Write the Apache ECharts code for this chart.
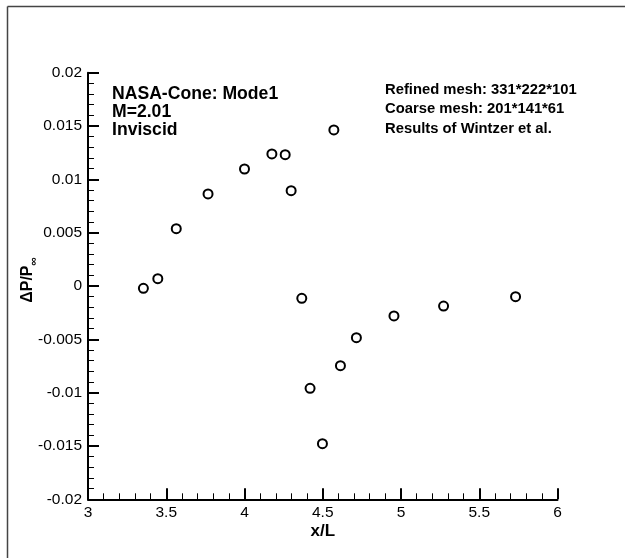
<!DOCTYPE html>
<html>
<head>
<meta charset="utf-8">
<script src="https://cdn.jsdelivr.net/npm/echarts@6/dist/echarts.min.js"></script>
<style>
html,body{margin:0;padding:0;background:#fff;}
#c{width:625px;height:558px;}
</style>
</head>
<body>
<div id="c"></div>
<script>
var xValues = [3.354, 3.446, 3.564, 3.767, 4.000, 4.175, 4.260, 4.298, 4.571, 4.366, 4.419, 4.498, 4.613, 4.715, 4.955, 5.272, 5.732];
var yValues = [-0.00022, 0.00069, 0.00537, 0.00863, 0.01097, 0.01238, 0.01231, 0.00894, 0.01463, -0.00115, -0.00959, -0.01479, -0.00747, -0.00485, -0.00281, -0.00188, -0.00100];
var xTicks = [3, 3.5, 4, 4.5, 5, 5.5, 6];
var yTicks = [-0.02, -0.015, -0.01, -0.005, 0, 0.005, 0.01, 0.015, 0.02];
var leftNote = ['NASA-Cone: Mode1', 'M=2.01', 'Inviscid'];
var rightNote = ['Refined mesh: 331*222*101', 'Coarse mesh: 201*141*61', 'Results of Wintzer et al.'];

var FONT = '"Liberation Sans", Arial, Helvetica, sans-serif';
var points = xValues.map(function (x, i) { return [x, yValues[i]]; });

var chart = echarts.init(document.getElementById('c'), null, {renderer: 'canvas'});
chart.setOption({
  animation: false,
  backgroundColor: '#fff',
  grid: {left: 88, right: 67.5, top: 72.7, bottom: 58.7, containLabel: false},
  xAxis: {
    type: 'value', min: 3, max: 6, interval: 0.5,
    name: 'x/L', nameLocation: 'middle', nameGap: 24, nameMoveOverlap: false,
    nameTextStyle: {fontFamily: FONT, fontWeight: 'bold', fontSize: 17, color: '#000'},
    axisLine: {show: true, onZero: false, lineStyle: {color: '#000', width: 2}},
    axisTick: {show: true, inside: true, length: 11, lineStyle: {color: '#000', width: 2}},
    minorTick: {show: true, splitNumber: 5, length: 6, lineStyle: {color: '#000', width: 1}},
    splitLine: {show: false},
    axisLabel: {
      fontFamily: FONT, fontSize: 15.5, color: '#000', margin: 5,
      formatter: function (v) { return xTicks.indexOf(v) >= 0 ? String(v) : ''; }
    }
  },
  yAxis: {
    type: 'value', min: -0.02, max: 0.02, interval: 0.005,
    name: '{a|ΔP/P}{b|∞}', nameLocation: 'middle', nameGap: 48, nameRotate: 90, nameMoveOverlap: false,
    nameTextStyle: {
      fontFamily: FONT, color: '#000', padding: [0, 0, 0, 12],
      rich: {
        a: {fontFamily: FONT, fontWeight: 'bold', fontSize: 16, lineHeight: 24, color: '#000'},
        b: {fontFamily: FONT, fontWeight: 'bold', fontSize: 11.5, lineHeight: 11, verticalAlign: 'bottom', color: '#000'}
      }
    },
    axisLine: {show: true, onZero: false, lineStyle: {color: '#000', width: 2}},
    axisTick: {show: true, inside: true, length: 11, lineStyle: {color: '#000', width: 2}},
    minorTick: {show: true, splitNumber: 5, length: 6, lineStyle: {color: '#000', width: 1}},
    splitLine: {show: false},
    axisLabel: {
      fontFamily: FONT, fontSize: 15.5, color: '#000', margin: 6,
      formatter: function (v) {
        var r = Math.round(v * 1000) / 1000;
        for (var i = 0; i < yTicks.length; i++) if (Math.abs(yTicks[i] - r) < 1e-9) return String(yTicks[i]);
        return '';
      }
    }
  },
  series: [{
    type: 'scatter',
    data: points,
    symbol: 'circle',
    symbolSize: 9,
    itemStyle: {color: '#fff', borderColor: '#000', borderWidth: 2, opacity: 1}
  }],
  graphic: [
    {type: 'line', shape: {x1: 7.5, y1: 6.5, x2: 625, y2: 6.5}, style: {stroke: '#444', lineWidth: 1.5}, silent: true},
    {type: 'line', shape: {x1: 7.5, y1: 6.5, x2: 7.5, y2: 558}, style: {stroke: '#444', lineWidth: 1.5}, silent: true},
    {type: 'text', left: 112, top: 85, silent: true,
      style: {text: leftNote.join('\n'), fontFamily: FONT, fontWeight: 'bold', fontSize: 17.6, lineHeight: 18, fill: '#000'}},
    {type: 'text', left: 385, top: 80, silent: true,
      style: {text: rightNote.join('\n'), fontFamily: FONT, fontWeight: 'bold', fontSize: 14.8, lineHeight: 19.5, fill: '#000'}}
  ]
});
</script>
</body>
</html>
